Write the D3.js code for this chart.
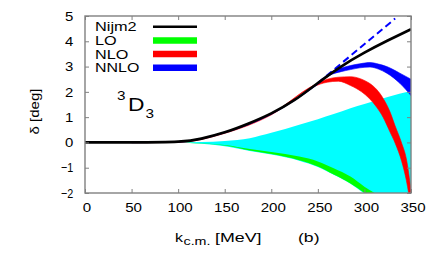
<!DOCTYPE html>
<html>
<head>
<meta charset="utf-8">
<script src="https://cdn.jsdelivr.net/npm/d3@7"></script>
<style>
  body { margin: 0; background: #fff; }
  text { font-family: "Liberation Sans", Arial, sans-serif; fill: #000; }
</style>
</head>
<body>
<div id="chart"></div>
<script>
// data (k in MeV, delta in deg)
var nijmK = [0, 50, 100, 125, 150, 175, 200, 225, 250, 275, 300, 325, 350];
var nijmD = [0, 0, 0.03, 0.15, 0.4, 0.74, 1.15, 1.68, 2.35, 3.0, 3.55, 4.03, 4.48];

var dashK = [250, 333];
var dashD = [2.35, 4.9];

var cyanK = [100, 125, 150, 177, 200, 230, 250, 267, 285, 300, 325, 350];
var cyanHi = [0, 0.02, 0.06, 0.17, 0.38, 0.7, 0.92, 1.12, 1.35, 1.52, 1.8, 2.03];
var cyanLo = [0, -0.05, -0.15, -0.34, -0.48, -0.72, -0.97, -1.28, -1.63, -2.02, -2.6, -3.3];

var loK = [100, 150, 177, 200, 230, 250, 267, 285, 300, 313, 325];
var loHi = [0, -0.1, -0.26, -0.38, -0.56, -0.75, -1.02, -1.35, -1.75, -2.05, -2.4];
var loLo = [0, -0.12, -0.32, -0.46, -0.7, -0.95, -1.27, -1.62, -2.0, -2.4, -2.8];

var nloK = [50, 100, 150, 200, 245, 260, 272, 285, 297, 305, 313, 320, 327, 333, 340, 345, 350];
var nloHi = [0, 0.02, 0.39, 1.13, 2.25, 2.5, 2.58, 2.6, 2.5, 2.35, 2.1, 1.75, 1.25, 0.65, -0.03, -0.65, -1.9];
var nloLo = [-0.01, 0.0, 0.36, 1.09, 2.2, 2.38, 2.42, 2.25, 2.0, 1.75, 1.4, 1.0, 0.45, -0.03, -0.75, -1.5, -2.6];

var nnloK = [50, 100, 150, 200, 250, 263, 275, 285, 295, 306, 315, 324, 338, 350];
var nnloHi = [0, 0.03, 0.41, 1.15, 2.35, 2.75, 2.94, 3.04, 3.11, 3.16, 3.1, 3.0, 2.74, 2.5];
var nnloLo = [-0.01, 0.01, 0.38, 1.11, 2.3, 2.66, 2.8, 2.88, 2.95, 2.98, 2.9, 2.74, 2.34, 1.85];

var xTicks = [0, 50, 100, 150, 200, 250, 300, 350];
var yTicks = [-2, -1, 0, 1, 2, 3, 4, 5];

var legendNames = ["Nijm2", "LO", "NLO", "NNLO"];
var legendColors = ["#000000", "#00ff00", "#ff0000", "#0000ff"];
var legendWidths = [41.7, 21.7, 33.3, 44.3];

var margin = { top: 16, right: 25, bottom: 66, left: 85 },
    width = 436 - margin.left - margin.right,
    height = 259 - margin.top - margin.bottom;

var svgRoot = d3.select("#chart")
    .append("svg")
    .attr("width", 436)
    .attr("height", 259);

var svg = svgRoot.append("g")
    .attr("transform", "translate(" + margin.left + "," + margin.top + ")");

var x = d3.scaleLinear().domain([0, 350]).range([0, width]);
var y = d3.scaleLinear().domain([-2, 5]).range([height, 0]);

// the original lettering is wide, stretch glyphs to the measured widths
function fit(sel, w) {
    sel.attr("textLength", w).attr("lengthAdjust", "spacingAndGlyphs");
}

svg.append("clipPath").attr("id", "plotclip")
    .append("rect").attr("width", width).attr("height", height);

var plot = svg.append("g").attr("clip-path", "url(#plotclip)");

function band(ks, hi, lo) {
    return ks.map(function (k, i) { return { k: k, hi: hi[i], lo: lo[i] }; });
}
function pts(ks, ds) {
    return ks.map(function (k, i) { return { k: k, d: ds[i] }; });
}

var area = d3.area()
    .x(function (d) { return x(d.k); })
    .y0(function (d) { return y(d.lo); })
    .y1(function (d) { return y(d.hi); })
    .curve(d3.curveMonotoneX);

var line = d3.line()
    .x(function (d) { return x(d.k); })
    .y(function (d) { return y(d.d); })
    .curve(d3.curveNatural);

plot.append("path").datum(band(cyanK, cyanHi, cyanLo))
    .attr("d", area).attr("fill", "#00ffff");
plot.append("path").datum(band(loK, loHi, loLo))
    .attr("d", area).attr("fill", "#00ff00");
plot.append("path").datum(band(nloK, nloHi, nloLo))
    .attr("d", area).attr("fill", "#ff0000").attr("stroke", "#ff0000").attr("stroke-width", 0.6);
plot.append("path").datum(band(nnloK, nnloHi, nnloLo))
    .attr("d", area).attr("fill", "#0000ff").attr("stroke", "#0000ff").attr("stroke-width", 0.6);

plot.append("path").datum(pts(dashK, dashD))
    .attr("d", line).attr("fill", "none")
    .attr("stroke", "#0000ff").attr("stroke-width", 2)
    .attr("stroke-dasharray", "7,4");

plot.append("path").datum(pts(nijmK, nijmD))
    .attr("d", line).attr("fill", "none")
    .attr("stroke", "#000").attr("stroke-width", 2.7);

// axes: inside ticks on all four sides
var gray = "#808080";
function styleAxis(g) {
    g.select(".domain").remove();
    g.selectAll(".tick line").attr("stroke", gray).attr("stroke-width", 1);
    g.selectAll("text").style("font-size", "13px").attr("fill", "#000");
}

svg.append("g").attr("transform", "translate(0," + height + ")")
    .call(d3.axisBottom(x).tickValues(xTicks).tickSize(-4).tickPadding(9.5).tickFormat(d3.format("d")))
    .call(styleAxis)
    .selectAll("text")
    .attr("dx", 1.5)
    .each(function (d) { fit(d3.select(this), String(d).length * 8.4); });
svg.append("g")
    .call(d3.axisTop(x).tickValues(xTicks).tickSize(-4).tickFormat(""))
    .call(styleAxis);
svg.append("g")
    .call(d3.axisLeft(y).tickValues(yTicks).tickSize(-4).tickPadding(11.7).tickFormat(d3.format("d")))
    .call(styleAxis)
    .selectAll("text")
    .each(function (d) { fit(d3.select(this), d < 0 ? 12.3 : 8.3); });
svg.append("g").attr("transform", "translate(" + width + ",0)")
    .call(d3.axisRight(y).tickValues(yTicks).tickSize(-4).tickFormat(""))
    .call(styleAxis);

svg.append("rect")
    .attr("width", width).attr("height", height)
    .attr("fill", "none").attr("stroke", gray).attr("stroke-width", 1.4);

// legend
var leg = svgRoot.append("g");
legendNames.forEach(function (name, i) {
    var cy = 26.7 + i * 13.7;
    leg.append("text").attr("x", 95).attr("y", cy + 4.6)
        .style("font-size", "13px").text(name)
        .call(fit, legendWidths[i]);
    leg.append("line")
        .attr("x1", 153).attr("x2", 197).attr("y1", cy).attr("y2", cy)
        .attr("stroke", legendColors[i])
        .attr("stroke-width", i === 0 ? 2.4 : 6.5);
});

// 3D3 label
svgRoot.append("text").attr("x", 117).attr("y", 100)
    .style("font-size", "13px").text("3").call(fit, 8.5);
svgRoot.append("text").attr("x", 128).attr("y", 111)
    .style("font-size", "19px").text("D").call(fit, 16.5);
svgRoot.append("text").attr("x", 145.5).attr("y", 118)
    .style("font-size", "13px").text("3").call(fit, 8.5);

// axis titles
svgRoot.append("text")
    .attr("transform", "translate(39,111.5) rotate(-90)")
    .attr("text-anchor", "middle")
    .style("font-size", "13px")
    .text("\u03b4 [deg]")
    .call(fit, 46);

svgRoot.append("text").attr("x", 175).attr("y", 242)
    .style("font-size", "13px").text("k").call(fit, 8);
svgRoot.append("text").attr("x", 183.5).attr("y", 245)
    .style("font-size", "10px").text("c.m.").call(fit, 27);
svgRoot.append("text").attr("x", 215).attr("y", 242)
    .style("font-size", "13px").text("[MeV]").call(fit, 46.5);

svgRoot.append("text").attr("x", 298).attr("y", 242)
    .style("font-size", "13px").text("(b)").call(fit, 21.5);
</script>
</body>
</html>
